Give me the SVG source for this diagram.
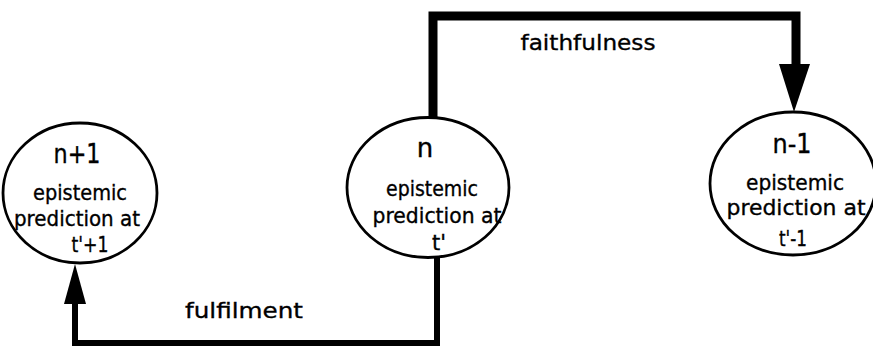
<svg xmlns="http://www.w3.org/2000/svg" width="873" height="349" viewBox="0 0 873 349">
<style>
.node ellipse{fill:#fff;stroke:#000;stroke-width:2.8}
text{font-family:"DejaVu Sans","Liberation Sans",sans-serif;fill:#000;text-anchor:middle;stroke:#000;stroke-width:0.35}
.big{font-size:26px}
.body{font-size:21px}
.lbl{font-size:22px}
.conn{fill:none;stroke:#000;stroke-linejoin:miter;stroke-linecap:butt}
</style>
<rect width="873" height="349" fill="#fff"/>
<g id="connectors">
<path class="conn" stroke-width="9" d="M433,118 V16 H796 V70"/>
<polygon points="779,64 810,64 794,112" fill="#000"/>
<path class="conn" stroke-width="6" d="M437,257 V343 H75 V300"/>
<polygon points="64,304 86,304 75,264" fill="#000"/>
<text class="lbl" x="588" y="50" textLength="135" lengthAdjust="spacingAndGlyphs">faithfulness</text>
<text class="lbl" x="244" y="318" textLength="118" lengthAdjust="spacingAndGlyphs">fulfilment</text>
</g>
<g id="node-n-plus-1" class="node">
<ellipse cx="80" cy="193" rx="77" ry="70"/>
<text class="big" x="77" y="163" textLength="47" lengthAdjust="spacingAndGlyphs">n+1</text>
<text class="body" x="80" y="200" textLength="94" lengthAdjust="spacingAndGlyphs">epistemic</text>
<text class="body" x="77" y="226" textLength="126" lengthAdjust="spacingAndGlyphs">prediction at</text>
<text class="body" x="90" y="252" textLength="37" lengthAdjust="spacingAndGlyphs">t'+1</text>
</g>
<g id="node-n" class="node">
<ellipse cx="428" cy="187.5" rx="81" ry="70"/>
<text class="big" x="425" y="157">n</text>
<text class="body" x="432" y="196" textLength="92" lengthAdjust="spacingAndGlyphs">epistemic</text>
<text class="body" x="437" y="223" textLength="129" lengthAdjust="spacingAndGlyphs">prediction at</text>
<text class="body" x="439" y="250">t'</text>
</g>
<g id="node-n-minus-1" class="node">
<ellipse cx="793" cy="183.5" rx="83" ry="71.5"/>
<text class="big" x="792" y="153" textLength="39" lengthAdjust="spacingAndGlyphs">n-1</text>
<text class="body" x="795" y="190" textLength="98" lengthAdjust="spacingAndGlyphs">epistemic</text>
<text class="body" x="796" y="215" textLength="139" lengthAdjust="spacingAndGlyphs">prediction at</text>
<text class="body" x="793" y="246" textLength="28" lengthAdjust="spacingAndGlyphs">t'-1</text>
</g>
</svg>
